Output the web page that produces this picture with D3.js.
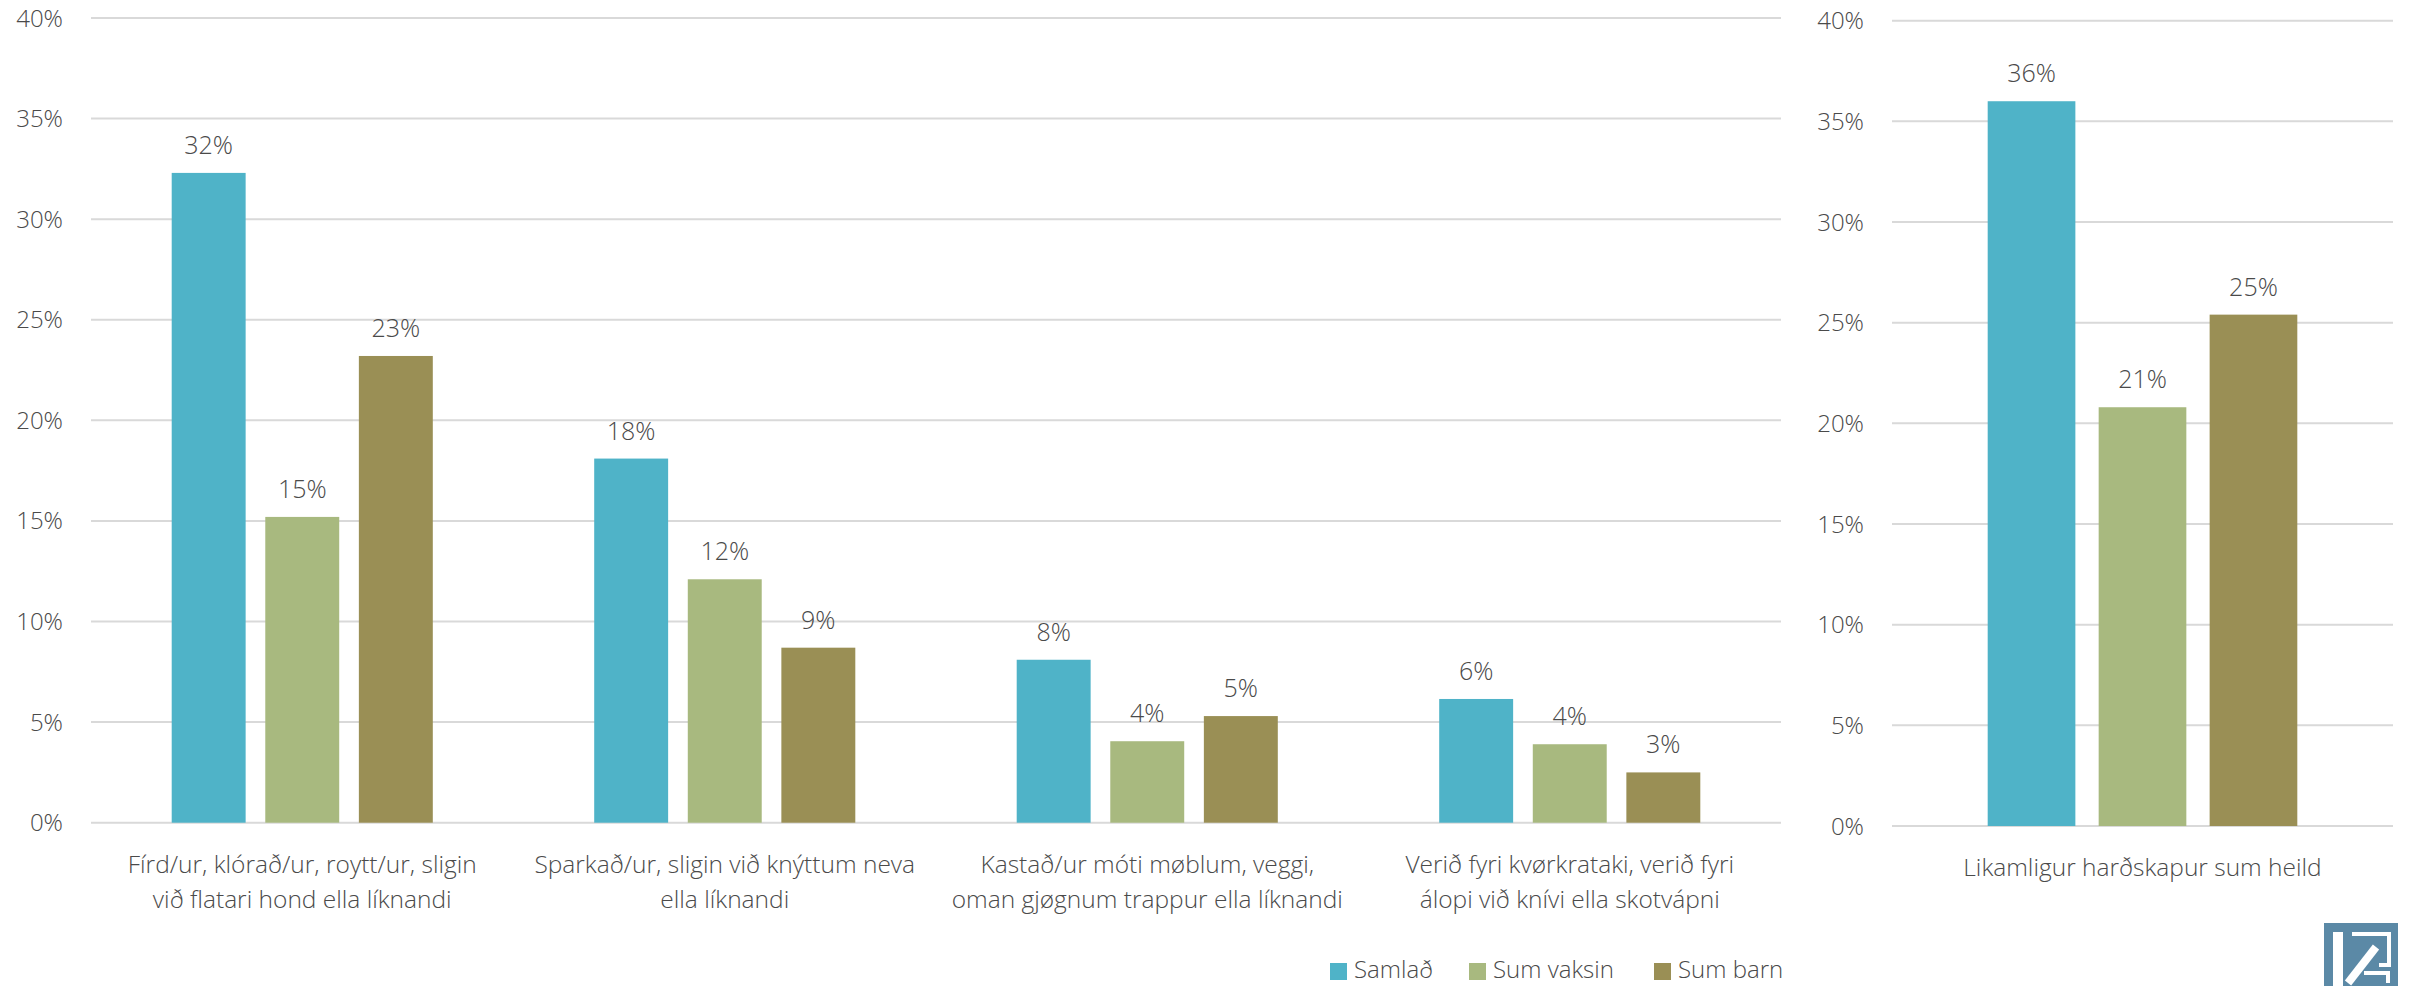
<!DOCTYPE html>
<html><head><meta charset="utf-8">
<script src="https://cdn.jsdelivr.net/npm/d3@7"></script>
<style>
html,body{margin:0;padding:0;background:#fff;}
svg text{font-family:"Open Sans","Noto Sans",sans-serif;font-weight:300;fill:#4a4a4a;}
</style></head>
<body>
<svg id="chart" width="2412" height="986"></svg>
<script>
const series = ["Samlað", "Sum vaksin", "Sum barn"];
const colors = ["#4fb3c8", "#a8b97f", "#9a8f55"];
const categories = [
  ["Fírd/ur, klórað/ur, roytt/ur, sligin", "við flatari hond ella líknandi"],
  ["Sparkað/ur, sligin við knýttum neva", "ella líknandi"],
  ["Kastað/ur móti møblum, veggi,", "oman gjøgnum trappur ella líknandi"],
  ["Verið fyri kvørkrataki, verið fyri", "álopi við knívi ella skotvápni"]
];
const samlad = [32.3, 18.1, 8.1, 6.15];
const vaksin = [15.2, 12.1, 4.05, 3.9];
const barn   = [23.2, 8.7, 5.3, 2.5];
const labelsLeft = [["32%","15%","23%"],["18%","12%","9%"],["8%","4%","5%"],["6%","4%","3%"]];
const totalCategory = ["Likamligur harðskapur sum heild"];
const totalValues = [36.0, 20.8, 25.4];
const totalLabels = ["36%","21%","25%"];
const yTicks = [0, 5, 10, 15, 20, 25, 30, 35, 40];

const svg = d3.select("#chart");

function panel(opts) {
  const {x0, x1, yBottom, yTop, cats, data, labels, tickX} = opts;
  const g = svg.append("g");
  const y = d3.scaleLinear().domain([0, 40]).range([yBottom, yTop]);
  const x = d3.scaleBand().domain(d3.range(cats.length)).range([x0, x1]).padding(0);
  const bw = x.bandwidth();
  const barW = bw * 0.175;
  const step = bw * 0.2215;
  g.selectAll("line.grid").data(yTicks).enter().append("line")
    .attr("x1", x0).attr("x2", x1)
    .attr("y1", d => y(d)).attr("y2", d => y(d))
    .attr("stroke", "#d9d9d9").attr("stroke-width", 2);
  g.selectAll("text.tick").data(yTicks).enter().append("text")
    .attr("x", tickX).attr("y", d => y(d) + 8.5)
    .attr("text-anchor", "end").style("font-size", "24px")
    .text(d => d + "%");
  data.forEach((vals, ci) => {
    const cx = x(ci) + bw / 2;
    vals.forEach((v, si) => {
      const bx = cx + (si - 1) * step - barW / 2;
      g.append("rect").attr("x", bx).attr("y", y(v))
        .attr("width", barW).attr("height", y(0) - y(v))
        .attr("fill", colors[si]);
      g.append("text").attr("x", bx + barW / 2).attr("y", y(v) - 19)
        .attr("text-anchor", "middle").style("font-size", "25px")
        .text(labels[ci][si]);
    });
    const lines = Array.isArray(cats[ci]) ? cats[ci] : [cats[ci]];
    lines.forEach((ln, li) => {
      g.append("text").attr("x", cx).attr("y", yBottom + 50 + li * 35)
        .attr("text-anchor", "middle").style("font-size", "24.5px")
        .text(ln);
    });
  });
}

panel({
  x0: 91, x1: 1781, yBottom: 822.7, yTop: 18, tickX: 63,
  cats: categories,
  data: categories.map((c, i) => [samlad[i], vaksin[i], barn[i]]),
  labels: labelsLeft
});
panel({
  x0: 1892, x1: 2393, yBottom: 826, yTop: 20.7, tickX: 1864,
  cats: totalCategory,
  data: [totalValues],
  labels: [totalLabels]
});

const legX = [1330, 1469, 1654];
const leg = svg.append("g");
series.forEach((s, i) => {
  leg.append("rect").attr("x", legX[i]).attr("y", 963).attr("width", 17).attr("height", 17).attr("fill", colors[i]);
  leg.append("text").attr("x", legX[i] + 24).attr("y", 978).style("font-size", "24px").text(s);
});

const logo = svg.append("g").attr("transform", "translate(2324,923)");
logo.append("rect").attr("width", 74).attr("height", 63).attr("fill", "#5b89a6");
logo.append("rect").attr("x", 9).attr("y", 9).attr("width", 10).attr("height", 54).attr("fill", "#fff");
logo.append("path").attr("d", "M28,11 L65,11 L65,42 L55,42").attr("fill", "none").attr("stroke", "#fff").attr("stroke-width", 4);
logo.append("path").attr("d", "M52,24 L24,60").attr("stroke", "#fff").attr("stroke-width", 8);
logo.append("path").attr("d", "M40,50 L64,50 L64,60").attr("fill", "none").attr("stroke", "#fff").attr("stroke-width", 4);
</script>
</body></html>
